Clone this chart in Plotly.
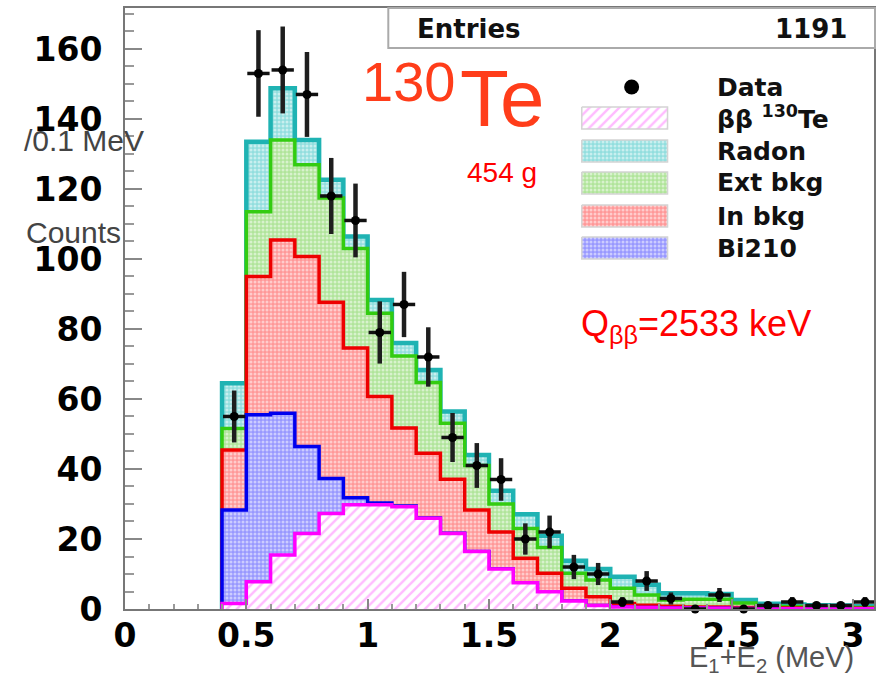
import numpy as np
import plotly.graph_objects as go

# ---- histogram binning (0.1 MeV bins) ----
bin_low = 0.4
bin_width = 0.1
n_bins = 27

# ---- measured spectrum (counts per bin) ----
data_counts = [55, 153, 154, 147, 118, 111, 79, 87, 72, 49, 41, 37, 20, 22,
               12, 10, 2, 8, 3, 0, 4, 0, 1, 2, 1, 1, 2]

# ---- fitted components (counts per bin) ----
bb_te130 = [1.6, 7.8, 15.4, 21.6, 27.3, 29.8, 29.8, 29.2, 25.9, 21.6, 16.4, 11.4,
            7.5, 4.9, 2.3, 1.0, 0.6, 0.4, 0.3, 0.25, 0.2, 0.15, 0.1, 0.1, 0.08,
            0.06, 0.05]
bi210 = [26.7, 47.7, 40.5, 24.8, 10.0, 2.0, 0.5, 0.2, 0.1, 0.05, 0, 0, 0, 0, 0,
         0, 0, 0, 0, 0, 0, 0, 0, 0, 0, 0, 0]
in_bkg = [17.1, 39.5, 49.5, 54.3, 50.3, 42.8, 30.4, 22.3, 18.5, 15.4, 11.9, 10.6,
          7.0, 5.3, 3.6, 2.5, 1.0, 0.7, 0.5, 0.35, 0.4, 0.25, 0.2, 0.2, 0.12,
          0.14, 0.15]
ext_bkg = [6.2, 18.5, 28.6, 26.2, 29.8, 28.4, 23.8, 20.6, 20.2, 16.0, 12.7, 8.0,
           8.5, 7.4, 4.3, 4.8, 4.3, 2.9, 1.8, 2.2, 2.2, 1.3, 0.6, 0.4, 0.4, 0.3,
           0.2]
radon = [12.9, 20.0, 14.8, 7.1, 5.2, 3.4, 3.8, 3.7, 3.6, 3.4, 3.0, 3.8, 4.1, 3.3,
         3.6, 3.1, 3.3, 2.9, 1.9, 1.7, 1.5, 0.9, 0.6, 0.6, 0.5, 0.5, 0.4]

x_ticks = [0, 0.5, 1, 1.5, 2, 2.5, 3]
x_tick_text = ["0", "0.5", "1", "1.5", "2", "2.5", "3"]
y_ticks = [0, 20, 40, 60, 80, 100, 120, 140, 160]

legend_labels = ["Data", "ββ <sup>130</sup>Te", "Radon", "Ext bkg", "In bkg", "Bi210"]
n_entries = 1191

# ---- figure geometry (pixels) ----
W, H = 878, 678
L, R, T, B = 125, 2, 8, 69
PX0, PX1 = L, W - R          # plot area left/right
PY0, PY1 = T, H - B          # plot area top/bottom
X_MAX = 3.087
Y_MAX = 171.7


def fx(px):
    """pixel x -> paper x"""
    return (px - PX0) / (PX1 - PX0)


def fy(py):
    """pixel y -> paper y"""
    return (PY1 - py) / (PY1 - PY0)


edges = np.round(bin_low + bin_width * np.arange(n_bins + 1), 3)
centers = 0.5 * (edges[:-1] + edges[1:])

# stacked (cumulative) component heights, bottom to top
comp_bb = np.array(bb_te130)
comp_bi = comp_bb + np.array(bi210)
comp_in = comp_bi + np.array(in_bkg)
comp_ext = comp_in + np.array(ext_bkg)
comp_rn = comp_ext + np.array(radon)


def step_xy(vals):
    xs = [edges[0]] + list(edges[:-1]) + [edges[-1], edges[-1]]
    ys = [0.0] + list(vals) + [vals[-1], 0.0]
    return xs, ys


styles = {
    "radon": dict(line="#1fb3b3", bg="#92dede", width=4.5),
    "ext": dict(line="#33cc11", bg="#b0e49a", width=3.5),
    "in": dict(line="#ee0000", bg="#ff9898", width=3.5),
    "bi": dict(line="#0000ee", bg="#9898ff", width=3.5),
    "bb": dict(line="#ff00ff", bg="#ffffff", width=3.5),
}


def pattern(key):
    st = styles[key]
    if key == "bb":
        return dict(shape="/", bgcolor="#ffffff", fgcolor="#ff77ff",
                    size=7, solidity=0.35)
    return dict(shape=".", bgcolor=st["bg"], fgcolor="#ffffff",
                size=4, solidity=0.45)


fig = go.Figure()

for key, vals in [("radon", comp_rn), ("ext", comp_ext), ("in", comp_in),
                  ("bi", comp_bi), ("bb", comp_bb)]:
    xs, ys = step_xy(vals)
    fig.add_trace(go.Scatter(
        x=xs, y=ys, mode="lines", line_shape="hv",
        line=dict(color=styles[key]["line"], width=styles[key]["width"]),
        fill="tozeroy", fillpattern=pattern(key),
        showlegend=False, hoverinfo="skip"))

counts = np.array(data_counts, dtype=float)
fig.add_trace(go.Scatter(
    x=centers, y=counts, mode="markers",
    marker=dict(color="black", size=9),
    error_y=dict(type="data", array=np.sqrt(counts), thickness=4.5, width=0,
                 color="#1e1e1e"),
    error_x=dict(type="data", array=[0.046] * len(counts), thickness=3.5,
                 width=0, color="#111111"),
    cliponaxis=False, showlegend=False))

# ---- legend block (drawn on a pixel-scaled overlay axis) ----
sw_x0, sw_x1 = 583, 669
row_y = [87, 118, 151, 183, 216, 248]
sw_h = 22
fig.add_trace(go.Scatter(
    x=[633], y=[row_y[0]], mode="markers", marker=dict(color="black", size=15),
    xaxis="x2", yaxis="y2", showlegend=False, hoverinfo="skip"))
for key, yc in zip(["bb", "radon", "ext", "in", "bi"], row_y[1:]):
    t, b = yc - sw_h / 2, yc + sw_h / 2
    fig.add_trace(go.Scatter(
        x=[sw_x0, sw_x1, sw_x1, sw_x0, sw_x0], y=[t, t, b, b, t],
        mode="lines", fill="toself", fillpattern=pattern(key),
        line=dict(color="#d4d4d4", width=1.5),
        xaxis="x2", yaxis="y2", showlegend=False, hoverinfo="skip"))

annotations = []
for lab, yc in zip(legend_labels, row_y):
    annotations.append(dict(
        text=lab, x=fx(717), y=fy(yc), xanchor="left", yanchor="middle",
        font=dict(family="DejaVu Sans", size=25, color="#111111", weight="bold")))

# axis captions
annotations += [
    dict(text="/0.1 MeV", x=fx(22), y=fy(140), xanchor="left", yanchor="middle",
         font=dict(family="Liberation Sans", size=30, color="#444444")),
    dict(text="Counts", x=fx(24), y=fy(232), xanchor="left", yanchor="middle",
         font=dict(family="Liberation Sans", size=30, color="#444444")),
    dict(text="E<sub>1</sub>+E<sub>2</sub> (MeV)", x=fx(688), y=fy(659),
         xanchor="left", yanchor="middle",
         font=dict(family="Liberation Sans", size=29, color="#555555")),
    # isotope label and exposure
    dict(text="130", x=fx(361), y=fy(81), xanchor="left", yanchor="middle",
         font=dict(family="Liberation Sans", size=56, color="#ff3d1a")),
    dict(text="Te", x=fx(459), y=fy(99), xanchor="left", yanchor="middle",
         font=dict(family="Liberation Sans", size=80, color="#ff3d1a")),
    dict(text="454 g", x=fx(466), y=fy(172), xanchor="left", yanchor="middle",
         font=dict(family="Liberation Sans", size=28, color="#ff0000")),
    dict(text="Q<sub>ββ</sub>=2533 keV", x=fx(580), y=fy(326), xanchor="left",
         yanchor="middle",
         font=dict(family="Liberation Sans", size=36, color="#ff0000")),
    # statistics box
    dict(text="Entries", x=fx(416), y=fy(29), xanchor="left", yanchor="middle",
         font=dict(family="DejaVu Sans", size=26, color="#111111", weight="bold")),
    dict(text=str(n_entries), x=fx(851), y=fy(29), xanchor="right",
         yanchor="middle",
         font=dict(family="DejaVu Sans", size=26, color="#111111", weight="bold")),
]
for a in annotations:
    a["xref"] = "paper"
    a["yref"] = "paper"
    a["showarrow"] = False

shapes = [dict(type="rect", xref="paper", yref="paper",
               x0=fx(389), x1=fx(877), y0=fy(48), y1=fy(8),
               line=dict(color="#aaaaaa", width=2), fillcolor="white",
               layer="above")]

tick_font = dict(family="DejaVu Sans", size=33, color="black", weight="bold")

fig.update_layout(
    width=W, height=H,
    margin=dict(l=L, r=R, t=T, b=B, pad=0),
    paper_bgcolor="white", plot_bgcolor="white",
    showlegend=False,
    annotations=annotations,
    shapes=shapes,
    xaxis=dict(range=[0, X_MAX], tickvals=x_ticks, ticktext=x_tick_text,
               ticks="inside", ticklen=10, tickwidth=1.5, tickcolor="#888888",
               minor=dict(dtick=0.1, ticks="inside", ticklen=5,
                          tickcolor="#999999", tickwidth=1.5),
               showline=True, linecolor="#777777", linewidth=2, mirror=True,
               showgrid=False, zeroline=False, tickfont=tick_font,
               ticklabelstandoff=-4),
    yaxis=dict(range=[0, Y_MAX], tickvals=y_ticks,
               ticks="inside", ticklen=17, tickwidth=1.5, tickcolor="#888888",
               minor=dict(dtick=5, ticks="inside", ticklen=9,
                          tickcolor="#999999", tickwidth=1.5),
               showline=True, linecolor="#777777", linewidth=2, mirror=True,
               showgrid=False, zeroline=False, tickfont=tick_font,
               ticklabelstandoff=14),
    xaxis2=dict(overlaying="x", anchor="y2", range=[PX0, PX1], visible=False),
    yaxis2=dict(overlaying="y", anchor="x2", range=[PY1, PY0], visible=False),
)

fig.write_html("out.html")
